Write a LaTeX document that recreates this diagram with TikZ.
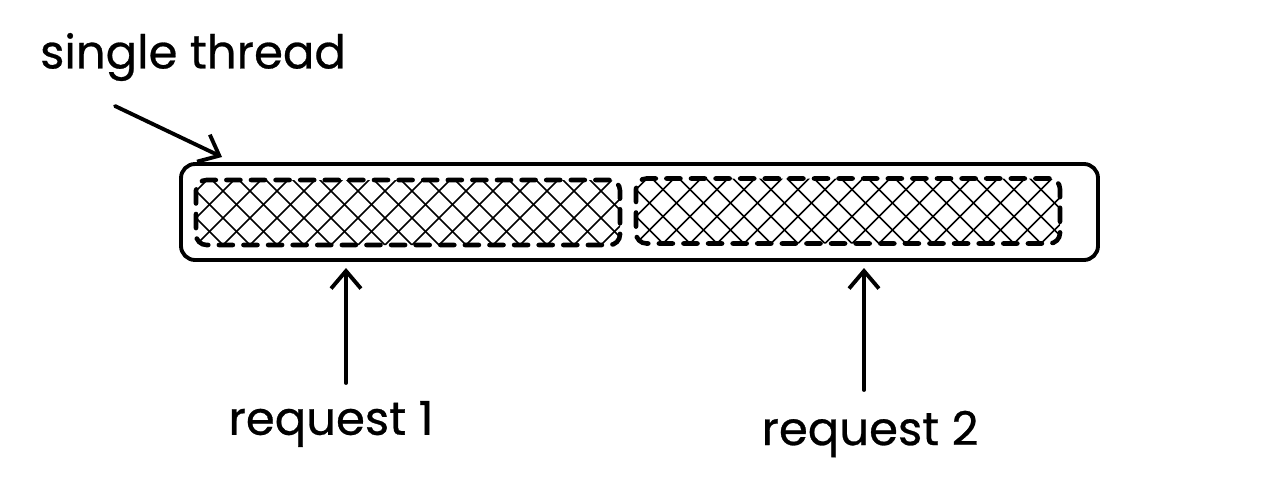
\documentclass[tikz,border=0pt]{standalone}
\usepackage{fontspec}
\setmainfont{Poppins}[FakeBold=1.2]
\newfontfamily\handfont{Poppins}[FakeBold=0.6]
\usetikzlibrary{arrows.meta,calc}
\tikzset{
	thread/.style={draw, line width=2.2pt, rounded corners=8pt, minimum width=18.34cm, minimum height=1.92cm},
	slot/.style={draw, line width=2.6pt, dash pattern=on 8pt off 6pt, line cap=round, rounded corners=6pt,
		minimum width=8.48cm, minimum height=1.3cm,
		path picture={
			\foreach \i in {-12,...,20}{
				\draw[line width=1pt, solid, line cap=butt]
				($(path picture bounding box.south west)+(\i*0.54,0)$) -- ++(2,2)
				($(path picture bounding box.south west)+(\i*0.54,0)$) -- ++(-2,2);
			}
		}},
	lbl/.style={font=\handfont\fontsize{26.5}{30}\selectfont},
	barb/.style={-{Straight Barb[length=10pt,width=17pt,line width=2.2pt]}, line width=2.2pt, line cap=round}
}
\begin{document}
\begin{tikzpicture}
	\useasboundingbox (0,0) rectangle (25.36,9.92);
	%\draw[dotted] (0,0) grid (25,9);
	\node[thread] (box) at (12.79,5.68) {};
	\node[slot] (job1) at (8.16,5.67) {};
	\node[slot] (job2) at (16.96,5.70) {};
	\node[lbl] (st) at (3.86,8.78) {single thread};
	\node[lbl] (req1) at (6.62,1.44) {request 1};
	\node[lbl] (req2) at (17.40,1.24) {request 2};
	\coordinate (tip0) at (4.44,6.78);
	\coordinate (tip1) at (6.92,4.56);
	\coordinate (tip2) at (17.28,4.56);
	\draw[barb] (2.30,7.80) -- (tip0);
	\draw[barb] (tip1 |- 0,2.26) -- (tip1);
	\draw[barb] (tip2 |- 0,2.12) -- (tip2);
\end{tikzpicture}
\end{document}
